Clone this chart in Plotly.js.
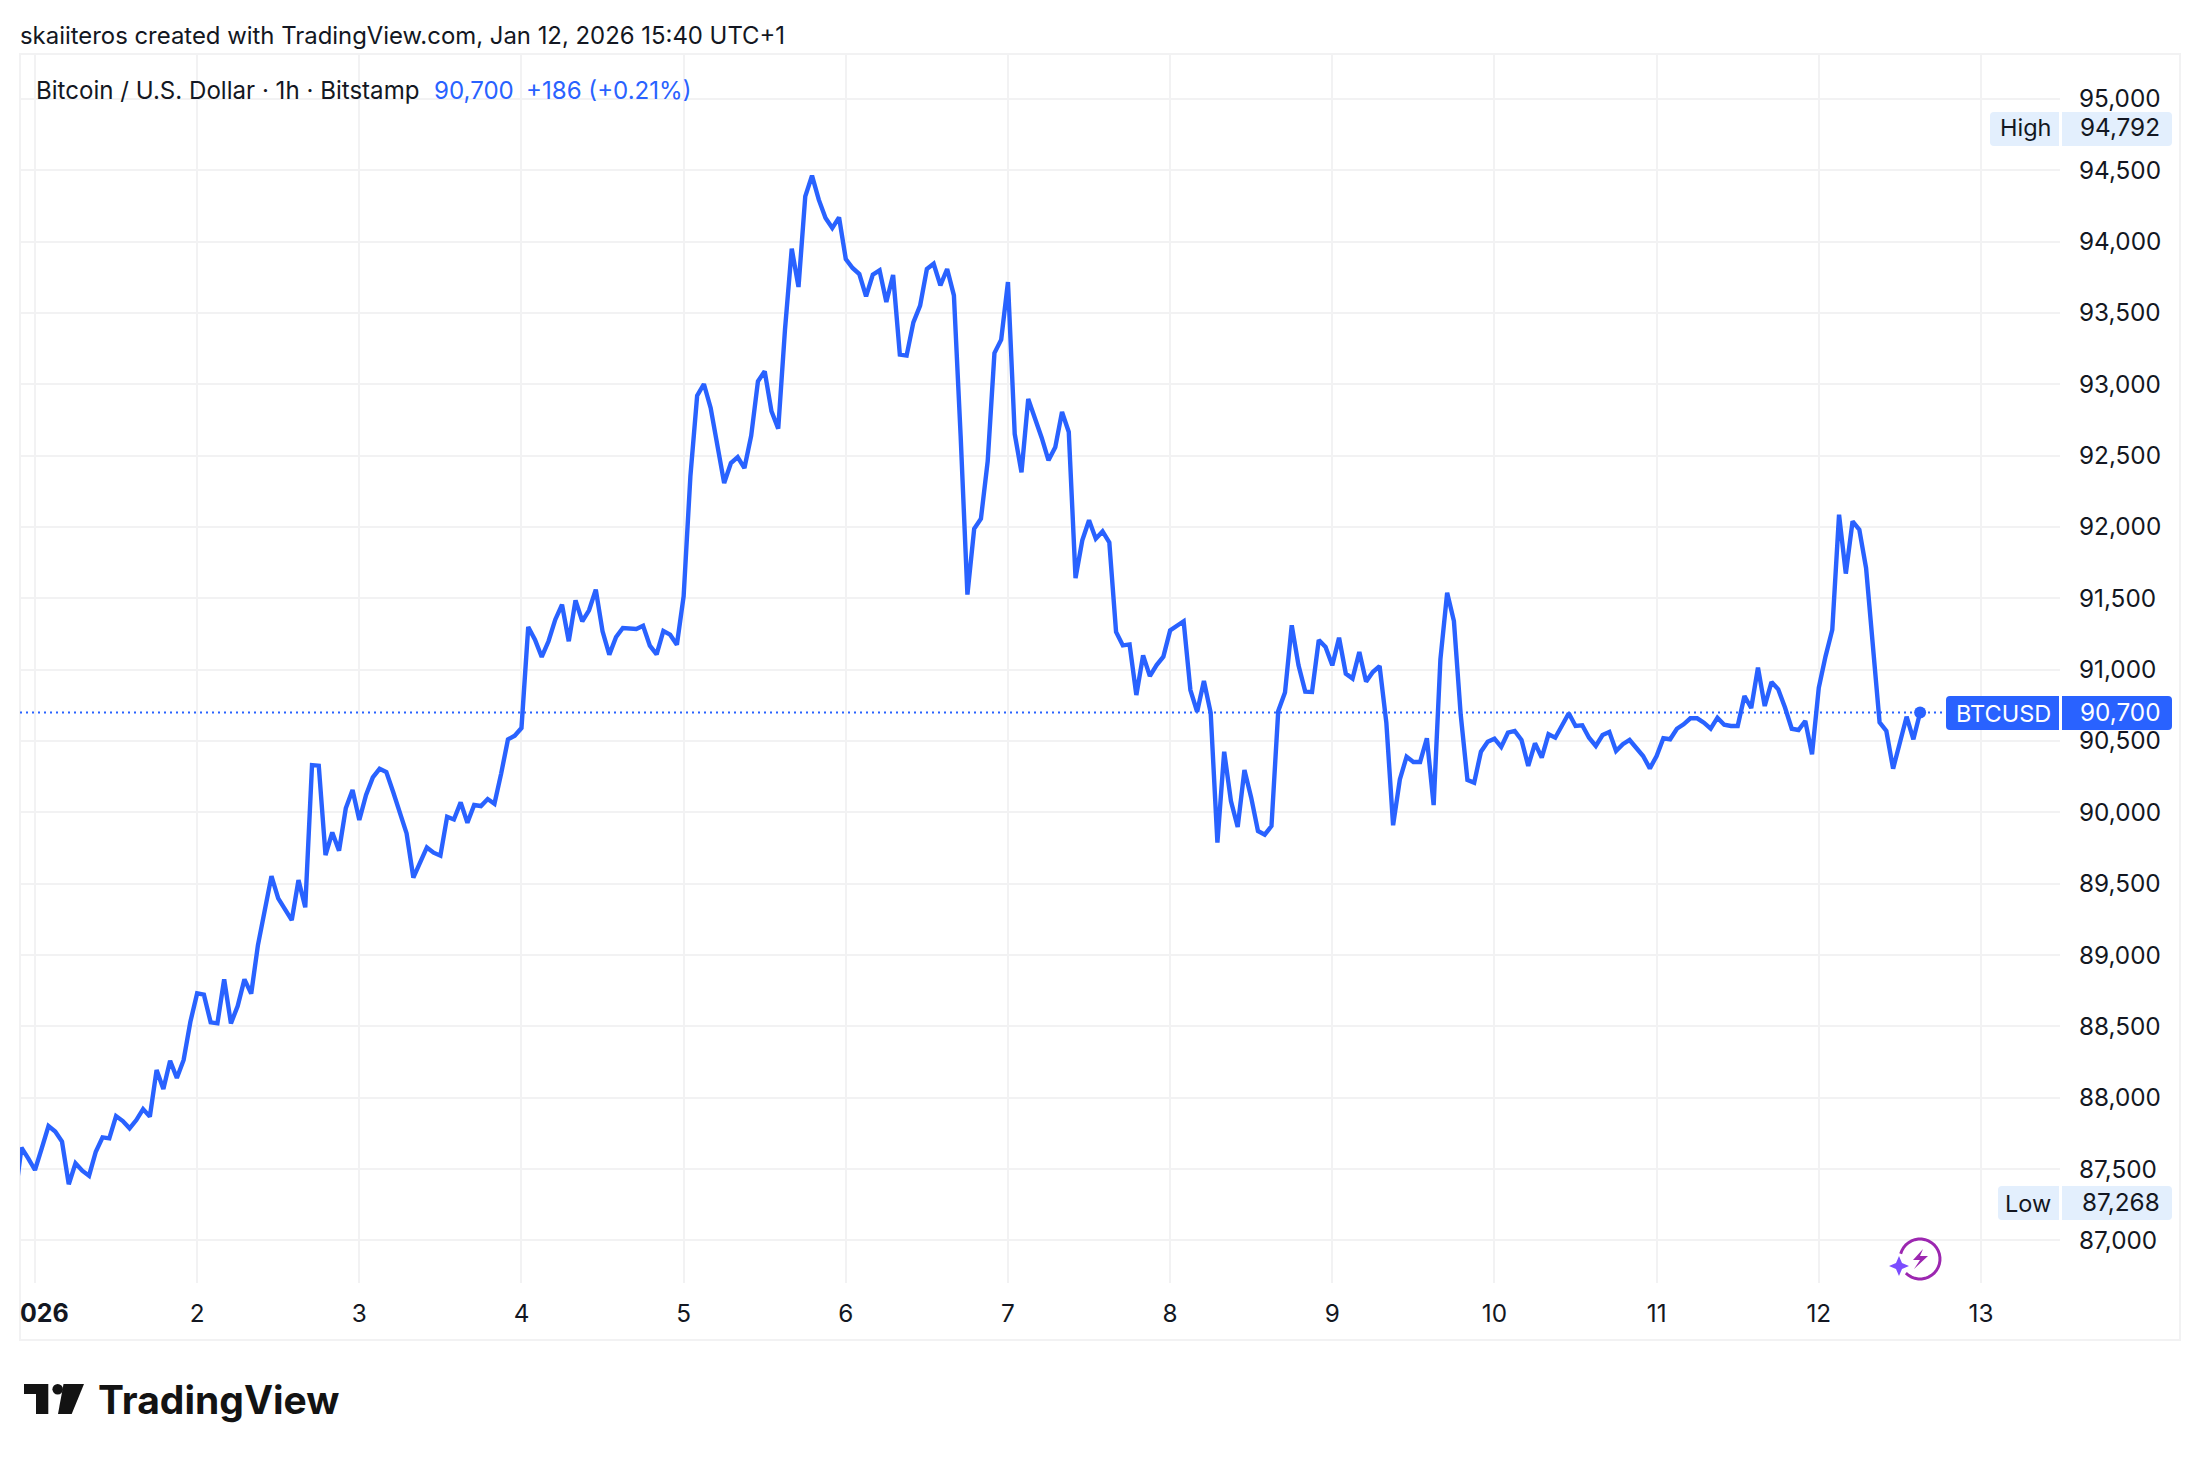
<!DOCTYPE html>
<html>
<head>
<meta charset="utf-8">
<title>BTCUSD 1h</title>
<script src="https://cdn.plot.ly/plotly-3.0.1.min.js"></script>
<style>
  body { margin: 0; background: #ffffff; }
  #chart { width: 2200px; height: 1460px; }
</style>
</head>
<body>
<div id="chart"></div>
<script>
// hourly closes, first one is Dec 31 21:00
const closes = [
  87283, 87650, 87575, 87493, 87645, 87801, 87762, 87692, 87393, 87540, 87488, 87453,
  87621, 87722, 87715, 87871, 87836, 87785, 87843, 87920, 87867, 88194, 88061, 88259,
  88138, 88264, 88532, 88731, 88722, 88528, 88521, 88829, 88521, 88642, 88829, 88729,
  89070, 89327, 89553, 89397, 89320, 89245, 89525, 89334, 90331, 90327, 89700, 89859,
  89731, 90028, 90156, 89946, 90121, 90245, 90305, 90282, 90144, 90000, 89852, 89542,
  89642, 89754, 89717, 89696, 89969, 89950, 90070, 89927, 90051, 90044, 90093, 90060,
  90273, 90511, 90537, 90591, 91299, 91210, 91089, 91199, 91350, 91455, 91199, 91486,
  91339, 91416, 91561, 91269, 91105, 91229, 91292, 91287, 91285, 91308, 91168, 91107,
  91271, 91245, 91175, 91514, 92355, 92920, 93002, 92834, 92589, 92308, 92448, 92490,
  92413, 92640, 93021, 93091, 92811, 92689, 93383, 93950, 93682, 94317, 94462, 94294,
  94165, 94095, 94170, 93878, 93815, 93773, 93616, 93768, 93799, 93577, 93766, 93208,
  93201, 93434, 93551, 93808, 93845, 93693, 93808, 93623, 92635, 91526, 91988, 92058,
  92460, 93219, 93313, 93717, 92652, 92383, 92897, 92764, 92624, 92467, 92558, 92806,
  92666, 91642, 91906, 92047, 91918, 91969, 91892, 91264, 91170, 91177, 90822, 91100,
  90955, 91032, 91091, 91275, 91306, 91339, 90857, 90705, 90920, 90698, 89787, 90425,
  90079, 89897, 90297, 90103, 89869, 89843, 89904, 90710, 90839, 91311, 91030, 90846,
  90843, 91208, 91159, 91030, 91224, 90972, 90937, 91124, 90916, 90983, 91025, 90628,
  89909, 90231, 90390, 90353, 90353, 90519, 90051, 91072, 91539, 91341, 90687, 90227,
  90208, 90425, 90495, 90516, 90458, 90558, 90570, 90507, 90325, 90484, 90383, 90547,
  90523, 90617, 90694, 90605, 90610, 90523, 90465, 90542, 90563, 90430, 90477, 90507,
  90453, 90395, 90308, 90395, 90519, 90512, 90586, 90617, 90659, 90659, 90628, 90586,
  90663, 90614, 90605, 90605, 90815, 90731, 91014, 90745, 90913, 90862, 90734, 90586,
  90577, 90640, 90406, 90872, 91093, 91280, 92086, 91673, 92040, 91981, 91712, 91164,
  90630, 90570, 90306, 90488, 90670, 90512, 90700
];
const dayTicks = ['2026-01-01', '2026-01-02', '2026-01-03', '2026-01-04', '2026-01-05', '2026-01-06', '2026-01-07',
  '2026-01-08', '2026-01-09', '2026-01-10', '2026-01-11', '2026-01-12', '2026-01-13'];
const dayLabels = ['', '2', '3', '4', '5', '6', '7', '8', '9', '10', '11', '12', '13'];
const priceTicks = [87000, 87500, 88000, 88500, 89000, 89500, 90000, 90500, 91000, 91500, 92000, 92500, 93000, 93500, 94000, 94500, 95000];
const lastPrice = 90700;
const highPrice = 94792;
const lowPrice = 87268;

const BLUE = '#2962ff';
const INK = '#131722';
const GRID = '#f2f2f3';
const TAG = '#e3effd';
const FONT = 'Inter, "Noto Sans", sans-serif';
const AXIS_SIZE = 24.3;

// plot box in page pixels
const L = 20, R = 2060, T = 54, B = 1283;
const fx = x => (x - L) / (R - L);
const fy = y => 1 - (y - T) / (B - T);

const times = closes.map((_, i) => new Date(Date.UTC(2025, 11, 31, 21 + i)).toISOString().slice(0, 19));

function tagPath(x0, y0, x1, y1, rl, rr) {
  const p = (x, y) => fx(x) + ',' + fy(y);
  return 'M' + p(x0 + rl, y0) + ' L' + p(x1 - rr, y0) + ' Q' + p(x1, y0) + ' ' + p(x1, y0 + rr) +
    ' L' + p(x1, y1 - rr) + ' Q' + p(x1, y1) + ' ' + p(x1 - rr, y1) +
    ' L' + p(x0 + rl, y1) + ' Q' + p(x0, y1) + ' ' + p(x0, y1 - rl) +
    ' L' + p(x0, y0 + rl) + ' Q' + p(x0, y0) + ' ' + p(x0 + rl, y0) + ' Z';
}
function polyPath(pts) {
  return 'M' + pts.map(q => fx(q[0]) + ',' + fy(q[1])).join(' L') + ' Z';
}
function paperShape(path, color) {
  return { type: 'path', xref: 'paper', yref: 'paper', path: path, fillcolor: color, line: { width: 0 }, layer: 'above' };
}
function label(x, y, text, color, size, anchor, weight) {
  return {
    xref: 'paper', yref: 'paper', x: fx(x), y: fy(y), text: text, showarrow: false,
    xanchor: anchor || 'left', yanchor: 'middle', borderpad: 0, borderwidth: 0,
    font: { family: FONT, size: size || AXIS_SIZE, color: color || INK, weight: weight || 400 }
  };
}

// flash badge ring, open on the left where the star sits
const ring = [];
for (let a = 165; a >= -140; a -= 10) {
  const r = a * Math.PI / 180;
  ring.push(fx(1920 + 20 * Math.cos(r)) + ',' + fy(1259 - 20 * Math.sin(r)));
}

const shapes = [
  // outer frame
  { type: 'rect', xref: 'paper', yref: 'paper', x0: 0, x1: fx(2180), y0: fy(1340), y1: 1, line: { color: GRID, width: 2 }, fillcolor: 'rgba(0,0,0,0)', layer: 'below' },
  // last price line
  { type: 'line', xref: 'paper', yref: 'y', x0: 0, x1: fx(1942), y0: lastPrice, y1: lastPrice, line: { color: BLUE, width: 2, dash: '2px,4px' }, layer: 'below' },
  paperShape(tagPath(1990, 112, 2059, 146, 4, 0), TAG),
  paperShape(tagPath(2062, 112, 2172, 146, 0, 4), TAG),
  paperShape(tagPath(1998, 1186, 2059, 1220, 4, 0), TAG),
  paperShape(tagPath(2062, 1186, 2172, 1220, 0, 4), TAG),
  paperShape(tagPath(1946, 696, 2059, 730, 4, 0), BLUE),
  paperShape(tagPath(2062, 696, 2172, 730, 0, 4), BLUE),
  // TradingView mark
  paperShape(polyPath([[24, 1384], [48.3, 1384], [48.3, 1414], [36, 1414], [36, 1394], [24, 1394]]), '#131313'),
  paperShape(polyPath([[63.5, 1384], [84, 1384], [71.7, 1414], [58, 1414]]), '#131313'),
  { type: 'circle', xref: 'paper', yref: 'paper', x0: fx(52.4), x1: fx(63), y0: fy(1394.6), y1: fy(1384), fillcolor: '#131313', line: { width: 0 }, layer: 'above' },
  // flash badge
  { type: 'path', xref: 'paper', yref: 'paper', path: 'M' + ring.join(' L'), line: { color: '#9c27b0', width: 3 }, fillcolor: 'rgba(0,0,0,0)', layer: 'above' },
  paperShape(polyPath([[1923, 1249], [1913, 1260], [1920, 1260], [1914, 1269], [1928, 1256], [1920, 1256]]), '#9c27b0'),
  paperShape(polyPath([[1899, 1256], [1902, 1263], [1909, 1266], [1902, 1269], [1899, 1276], [1896, 1269], [1889, 1266], [1896, 1263]]), '#7c4dff')
];

const annotations = [
  label(20, 35.5, 'skaiiteros created with TradingView.com, Jan 12, 2026 15:40 UTC+1', INK, 23.9),
  label(36, 90, 'Bitcoin / U.S. Dollar · 1h · Bitstamp', INK, 24.1),
  label(434, 90, '90,700', BLUE, 24.1),
  label(526, 90, '+186 (+0.21%)', BLUE, 24.1),
  label(20, 1313, '026', INK, 25, 'left', 700),
  label(2051, 127.5, 'High', INK, 23.5, 'right'),
  label(2160, 127.5, highPrice.toLocaleString('en-US'), INK, AXIS_SIZE, 'right'),
  label(2051, 1203, 'Low', INK, 23.5, 'right'),
  label(2160, 1202, lowPrice.toLocaleString('en-US'), INK, AXIS_SIZE, 'right'),
  label(2051, 713, 'BTCUSD', '#ffffff', 23.5, 'right'),
  label(2160, 712, lastPrice.toLocaleString('en-US'), '#ffffff', AXIS_SIZE, 'right'),
  label(98, 1399, 'TradingView', '#131313', 39, 'left', 700)
];

const data = [
  {
    x: times, y: closes, type: 'scatter', mode: 'lines',
    line: { color: BLUE, width: 4.4 }, hoverinfo: 'skip'
  },
  {
    x: [times[times.length - 1]], y: [closes[closes.length - 1]], type: 'scatter', mode: 'markers',
    marker: { color: BLUE, size: 12 }, hoverinfo: 'skip'
  }
];

const layout = {
  width: 2200, height: 1460,
  margin: { l: L, r: 2200 - R, t: T, b: 1460 - B, pad: 0 },
  paper_bgcolor: '#ffffff', plot_bgcolor: '#ffffff',
  showlegend: false,
  font: { family: FONT, size: AXIS_SIZE, color: INK },
  xaxis: {
    type: 'date',
    range: ['2025-12-31 21:47', '2026-01-13 11:42'],
    tickmode: 'array', tickvals: dayTicks, ticktext: dayLabels,
    showgrid: true, gridcolor: GRID, gridwidth: 2, zeroline: false, showline: false,
    ticks: '', ticklabelstandoff: 14,
    tickfont: { family: FONT, size: AXIS_SIZE, color: INK }
  },
  yaxis: {
    side: 'right',
    range: [86701, 95315],
    tickmode: 'array', tickvals: priceTicks, tickformat: ',d',
    showgrid: true, gridcolor: GRID, gridwidth: 2, zeroline: false, showline: false,
    ticks: '', ticklabelstandoff: 18,
    tickfont: { family: FONT, size: AXIS_SIZE, color: INK }
  },
  shapes: shapes,
  annotations: annotations
};

Plotly.newPlot('chart', data, layout, { displayModeBar: false, staticPlot: true });
</script>
</body>
</html>
